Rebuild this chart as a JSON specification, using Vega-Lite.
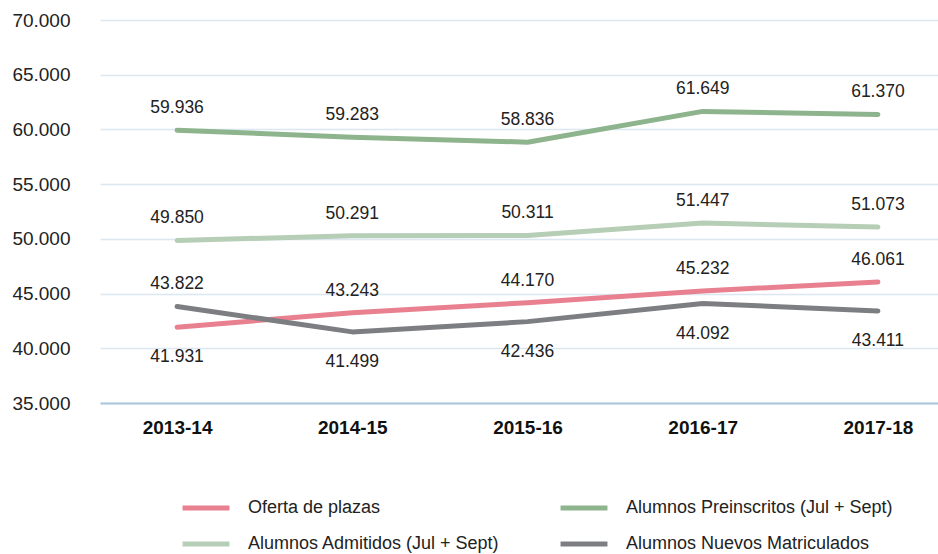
{
  "$schema": "https://vega.github.io/schema/vega-lite/v6.json",
  "width": 855,
  "height": 383,
  "autosize": {"type": "none"},
  "padding": {"left": 100, "top": 20, "right": 0, "bottom": 151},
  "background": "white",
  "config": {
    "locale": {"number": {"decimal": ",", "thousands": ".", "grouping": [3], "currency": ["", " €"]}},
    "view": {"stroke": null},
    "font": "Liberation Sans"
  },
  "data": {
    "values": [
      {"year": "2013-14", "series": "Oferta de plazas", "value": 41931},
      {"year": "2014-15", "series": "Oferta de plazas", "value": 43243},
      {"year": "2015-16", "series": "Oferta de plazas", "value": 44170},
      {"year": "2016-17", "series": "Oferta de plazas", "value": 45232},
      {"year": "2017-18", "series": "Oferta de plazas", "value": 46061},
      {"year": "2013-14", "series": "Alumnos Preinscritos (Jul + Sept)", "value": 59936},
      {"year": "2014-15", "series": "Alumnos Preinscritos (Jul + Sept)", "value": 59283},
      {"year": "2015-16", "series": "Alumnos Preinscritos (Jul + Sept)", "value": 58836},
      {"year": "2016-17", "series": "Alumnos Preinscritos (Jul + Sept)", "value": 61649},
      {"year": "2017-18", "series": "Alumnos Preinscritos (Jul + Sept)", "value": 61370},
      {"year": "2013-14", "series": "Alumnos Admitidos (Jul + Sept)", "value": 49850},
      {"year": "2014-15", "series": "Alumnos Admitidos (Jul + Sept)", "value": 50291},
      {"year": "2015-16", "series": "Alumnos Admitidos (Jul + Sept)", "value": 50311},
      {"year": "2016-17", "series": "Alumnos Admitidos (Jul + Sept)", "value": 51447},
      {"year": "2017-18", "series": "Alumnos Admitidos (Jul + Sept)", "value": 51073},
      {"year": "2013-14", "series": "Alumnos Nuevos Matriculados", "value": 43822},
      {"year": "2014-15", "series": "Alumnos Nuevos Matriculados", "value": 41499},
      {"year": "2015-16", "series": "Alumnos Nuevos Matriculados", "value": 42436},
      {"year": "2016-17", "series": "Alumnos Nuevos Matriculados", "value": 44092},
      {"year": "2017-18", "series": "Alumnos Nuevos Matriculados", "value": 43411}
    ]
  },
  "encoding": {
    "x": {
      "field": "year", "type": "ordinal",
      "scale": {"type": "point", "padding": 0.44},
      "axis": {
        "title": null, "labelAngle": 0, "labelFontSize": 19, "labelFontWeight": "bold",
        "labelColor": "#111", "labelPadding": 15, "ticks": false,
        "domain": true, "domainColor": "#a9c6dd", "domainWidth": 2
      }
    },
    "y": {
      "field": "value", "type": "quantitative",
      "scale": {"domain": [35000, 70000], "nice": false, "zero": false},
      "axis": {
        "title": null, "values": [35000, 40000, 45000, 50000, 55000, 60000, 65000, 70000],
        "format": ",.0f", "labelFontSize": 19, "labelColor": "#222", "labelPadding": 30,
        "ticks": false, "domain": false, "gridColor": "#dce7f2", "gridWidth": 1.5
      }
    }
  },
  "layer": [
    {
      "mark": {"type": "line", "strokeWidth": 5, "strokeCap": "round", "strokeJoin": "round"},
      "encoding": {
        "color": {
          "field": "series", "type": "nominal",
          "scale": {
            "domain": ["Oferta de plazas", "Alumnos Admitidos (Jul + Sept)", "Alumnos Preinscritos (Jul + Sept)", "Alumnos Nuevos Matriculados"],
            "range": ["#e8808f", "#b6cdb6", "#8db48d", "#7d7e82"]
          },
          "legend": {
            "title": null, "orient": "none", "legendX": 80, "legendY": 462,
            "columns": 2, "symbolType": "stroke", "symbolSize": 2200, "symbolStrokeWidth": 5,
            "labelFontSize": 18, "labelColor": "#222", "labelOffset": 16,
            "rowPadding": -13, "columnPadding": 50, "labelLimit": 400
          }
        }
      }
    },
    {
      "transform": [{"filter": "!((datum.series == 'Oferta de plazas' && datum.year == '2013-14') || (datum.series == 'Alumnos Nuevos Matriculados' && datum.year != '2013-14'))"}],
      "mark": {"type": "text", "fontSize": 17.5, "color": "#222", "dy": -22},
      "encoding": {"text": {"field": "value", "type": "quantitative", "format": ",.0f"}}
    },
    {
      "transform": [{"filter": "(datum.series == 'Oferta de plazas' && datum.year == '2013-14') || (datum.series == 'Alumnos Nuevos Matriculados' && datum.year != '2013-14')"}],
      "mark": {"type": "text", "fontSize": 17.5, "color": "#222", "dy": 30},
      "encoding": {"text": {"field": "value", "type": "quantitative", "format": ",.0f"}}
    }
  ]
}
